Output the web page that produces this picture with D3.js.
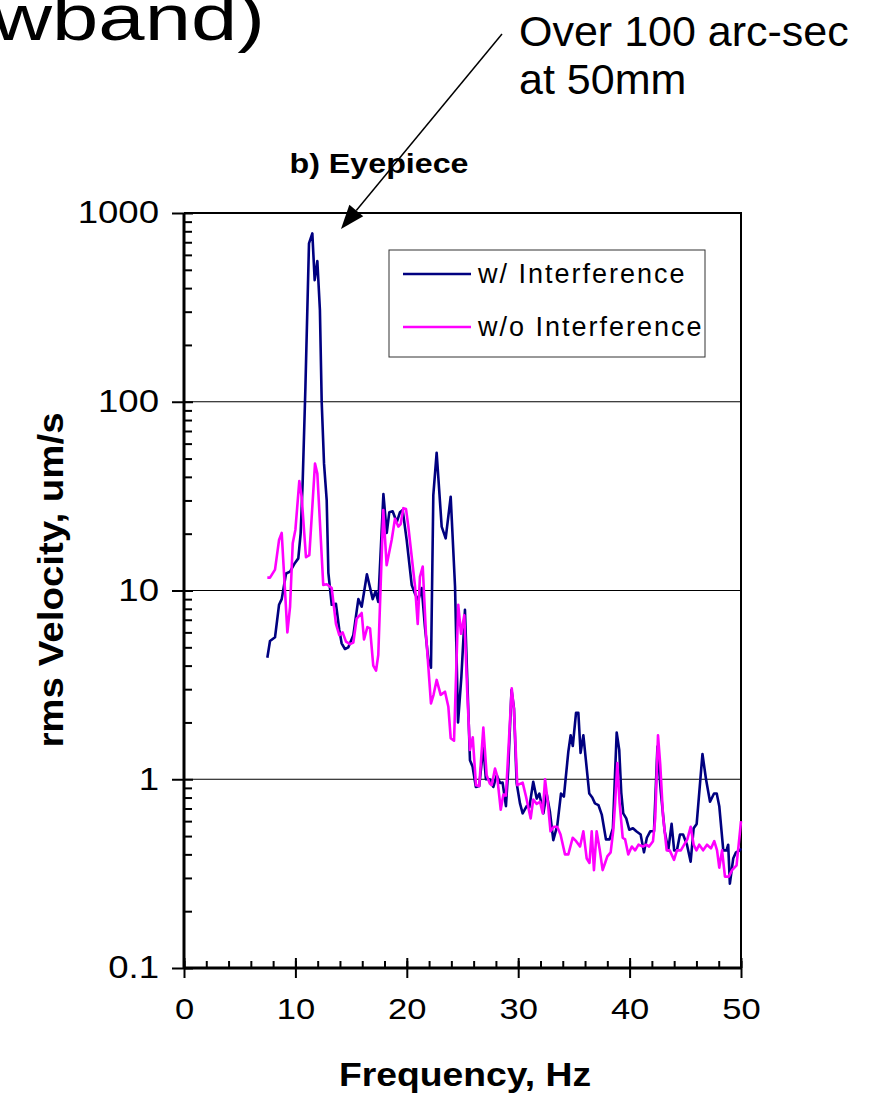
<!DOCTYPE html>
<html>
<head>
<meta charset="utf-8">
<script src="https://cdn.jsdelivr.net/npm/d3@7"></script>
<style>
  body { margin: 0; background: #fff; }
  svg { display: block; font-family: Arial, 'Liberation Sans', sans-serif; }
</style>
</head>
<body>
<div class="canvas"></div>
<script>
// data
const withFreq = [7.48, 7.72, 8.17, 8.53, 8.77, 9.16, 9.52, 9.96, 10.26, 10.47, 10.65, 10.9, 11.22, 11.52, 11.73, 11.97,
  12.2, 12.36, 12.57, 12.81, 12.96, 13.26, 13.64, 13.94, 14.15, 14.45, 14.75, 15.2, 15.65, 15.95, 16.42, 16.94, 17.2,
  17.44, 17.9, 18.2, 18.43, 18.73, 19.1, 19.39, 19.63, 19.99, 20.44, 20.74, 21.03, 21.34, 21.63, 21.93, 22.17, 22.38,
  22.68, 23.13, 23.49, 23.94, 24.33, 24.6, 24.9, 25.22, 25.67, 25.9, 26.2, 26.5, 26.87, 27.1, 27.45, 27.77, 28.07,
  28.37, 28.6, 28.9, 29.1, 29.4, 29.62, 29.86, 30.16, 30.4, 30.76, 31.0, 31.35, 31.66, 31.9, 32.26, 32.55, 32.85,
  33.15, 33.51, 33.84, 34.1, 34.5, 34.71, 34.9, 35.19, 35.4, 35.6, 35.85, 36.1, 36.38, 36.65, 36.89, 37.2, 37.5,
  37.88, 38.2, 38.5, 38.84, 39.07, 39.25, 39.43, 39.7, 39.97, 40.3, 40.6, 40.99, 41.29, 41.55, 41.85, 42.19, 42.5,
  42.8, 43.15, 43.47, 43.77, 44.0, 44.25, 44.52, 44.8, 45.15, 45.48, 45.75, 46.02, 46.54, 46.86, 47.22, 47.58, 47.82,
  48.05, 48.41, 48.7, 48.85, 49.0, 49.3, 49.55, 49.9, 50.0];
const withVel = [4.4, 5.4, 5.65, 8.4, 9.0, 12.3, 12.6, 14, 14.8, 20, 37, 120, 690, 780, 441, 557,
  306, 100, 47, 30, 12.4, 8.4, 8.5, 6.2, 5.25, 4.9, 5.0, 5.8, 9.0, 8.2, 12.2, 9.0, 9.9,
  8.7, 32.4, 20.2, 26, 26.3, 23, 26, 26.7, 18.5, 10.7, 9.6, 8.9, 10.3, 6.4, 4.3, 3.9, 32,
  53.7, 21.8, 18.9, 31.4, 10.5, 2.0, 3.5, 7.9, 1.26, 1.17, 0.91, 0.92, 1.49, 1.0, 1.0, 0.91, 1.05,
  0.955, 0.96, 0.72, 1.12, 2.97, 2.38, 0.955, 0.745, 0.66, 0.72, 0.71, 0.97, 0.79, 0.84, 0.66, 0.84, 0.67,
  0.476, 0.57, 0.84, 0.81, 1.4, 1.71, 1.5, 2.25, 2.25, 1.38, 1.71, 1.22, 0.84, 0.8, 0.745, 0.73, 0.65,
  0.48, 0.48, 0.55, 1.77, 1.43, 0.85, 0.66, 0.62, 0.54, 0.55, 0.53, 0.51, 0.41, 0.49, 0.53, 0.53, 1.49,
  0.86, 0.53, 0.42, 0.58, 0.42, 0.42, 0.51, 0.51, 0.45, 0.366, 0.55, 0.58, 1.36, 1.0, 0.76, 0.84, 0.84,
  0.72, 0.42, 0.42, 0.45, 0.28, 0.38, 0.41, 0.42, 0.43];

const withoutFreq = [7.48, 7.72, 8.17, 8.53, 8.77, 9.28, 9.52, 9.76, 10.0, 10.35, 10.56, 10.95, 11.25, 11.76, 11.97,
  12.5, 12.81, 13.26, 13.64, 13.94, 14.24, 14.54, 14.9, 15.2, 15.5, 15.95, 16.16, 16.46, 16.7, 16.99, 17.24, 17.44,
  17.65, 17.89, 18.19, 18.64, 18.94, 19.24, 19.45, 19.69, 19.93, 20.14, 20.44, 20.74, 20.98, 21.18, 21.43, 21.72,
  22.17, 22.4, 22.68, 23.04, 23.43, 23.73, 23.94, 24.24, 24.62, 24.87, 25.16, 25.43, 25.67, 25.92, 26.21, 26.5,
  26.87, 27.17, 27.45, 27.62, 27.92, 28.1, 28.43, 28.67, 28.9, 29.42, 29.62, 29.92, 30.4, 30.7, 31.12, 31.35, 31.66,
  31.96, 32.2, 32.41, 32.65, 32.9, 33.2, 33.5, 33.8, 34.2, 34.5, 34.89, 35.2, 35.55, 35.85, 36.15, 36.4, 36.6, 36.8,
  37.04, 37.3, 37.58, 37.8, 38.0, 38.3, 38.54, 38.7, 38.9, 39.1, 39.38, 39.6, 39.88, 40.2, 40.5, 40.8, 41.2, 41.5,
  41.75, 42.1, 42.3, 42.55, 42.75, 43.0, 43.33, 43.6, 43.99, 44.25, 44.6, 44.9, 45.18, 45.48, 45.75, 46.0, 46.25,
  46.6, 46.95, 47.3, 47.6, 47.85, 48.05, 48.3, 48.56, 48.9, 49.2, 49.6, 49.91, 50.0];
const withoutVel = [11.7, 11.7, 12.9, 18.5, 20.2, 6.0, 8.2, 17.8, 21, 38, 31.4, 15, 15.4, 47, 41.6,
  10.7, 10.8, 10.3, 6.65, 5.8, 6.0, 5.36, 5.2, 5.3, 7.1, 7.6, 5.5, 6.4, 6.3, 4.0, 3.76, 4.55,
  10.5, 26.7, 13.6, 18.5, 24, 21.8, 22.5, 27.3, 27, 21.8, 15.1, 10.5, 6.65, 11.8, 13.4, 5.9,
  2.52, 2.8, 3.36, 2.8, 2.91, 2.42, 1.65, 1.6, 8.4, 5.9, 7.4, 2.85, 1.43, 1.67, 0.93, 0.92,
  1.88, 1.05, 0.95, 0.93, 1.14, 1.05, 0.69, 0.83, 0.82, 3.03, 2.33, 0.93, 0.96, 0.81, 0.62, 0.78, 0.74,
  0.76, 0.66, 1.0, 0.76, 0.53, 0.56, 0.56, 0.51, 0.40, 0.40, 0.49, 0.47, 0.44, 0.53, 0.38, 0.36, 0.53, 0.33,
  0.53, 0.43, 0.33, 0.36, 0.39, 0.41, 0.54, 0.75, 1.22, 0.75, 0.49, 0.48, 0.40, 0.44, 0.42, 0.45, 0.44, 0.45,
  0.44, 0.47, 0.62, 1.71, 1.2, 0.64, 0.42, 0.42, 0.374, 0.42, 0.42, 0.45, 0.48, 0.56, 0.45, 0.42, 0.45,
  0.42, 0.45, 0.43, 0.47, 0.42, 0.34, 0.42, 0.305, 0.305, 0.33, 0.35, 0.53, 0.6];

const xTicks = [0, 10, 20, 30, 40, 50];
const xMinorTicks = d3.range(0, 51, 2);
const yTicks = [0.1, 1, 10, 100, 1000];
const yTickLabels = ['0.1', '1', '10', '100', '1000'];
const gridValues = [1, 10, 100];
const seriesNames = ['w/ Interference', 'w/o Interference'];
const seriesColors = ['#000080', '#ff00ff'];

const width = 871;
const height = 1094;
const plot = { left: 184, right: 741, top: 213, bottom: 968 };

// the original chart was pasted in wider than it was drawn, so its texts look stretched
const stretch = (sel, k) =>
  sel.each(function() {
    const w = this.getComputedTextLength();
    d3.select(this)
      .attr('textLength', w * k)
      .attr('lengthAdjust', 'spacingAndGlyphs');
  });

const svg = d3
  .select('.canvas')
  .append('svg')
  .attr('width', width)
  .attr('height', height);

// scales
const x = d3.scaleLinear().domain([0, 50]).range([plot.left, plot.right]);
const y = d3.scaleLog().domain([0.1, 1000]).range([plot.bottom, plot.top]);

// horizontal grid lines
svg
  .append('g')
  .selectAll('line')
  .data(gridValues)
  .enter()
  .append('line')
  .attr('x1', plot.left)
  .attr('x2', plot.right)
  .attr('y1', d => y(d))
  .attr('y2', d => y(d))
  .attr('stroke', '#000')
  .attr('stroke-width', 1);

// frame top and right
svg
  .append('path')
  .attr('d', `M${plot.left},${plot.top}H${plot.right}V${plot.bottom}`)
  .attr('fill', 'none')
  .attr('stroke', '#000')
  .attr('stroke-width', 2);

// minor ticks
const yMinor = [];
[0.1, 1, 10, 100].forEach(d => {
  for (let k = 2; k <= 9; k++) yMinor.push(d * k);
});

svg
  .append('g')
  .attr('transform', `translate(${plot.left},0)`)
  .call(d3.axisLeft(y).tickValues(yMinor).tickSize(-8).tickFormat(''))
  .call(g => g.select('.domain').remove())
  .selectAll('line')
  .attr('stroke-width', 2);

svg
  .append('g')
  .attr('transform', `translate(0,${plot.bottom})`)
  .call(d3.axisBottom(x).tickValues(xMinorTicks).tickSize(-7).tickFormat(''))
  .call(g => g.select('.domain').remove())
  .selectAll('line')
  .attr('stroke-width', 2);

// main axes
const yAxisGroup = svg
  .append('g')
  .attr('transform', `translate(${plot.left},0)`)
  .call(
    d3
      .axisLeft(y)
      .tickValues(yTicks)
      .tickSize(12)
      .tickPadding(13)
      .tickFormat((d, i) => yTickLabels[i])
  );
yAxisGroup.select('.domain').attr('stroke-width', 3).attr('d', `M0,${plot.top}V${plot.bottom}`);
yAxisGroup.selectAll('line').attr('x1', 9).attr('stroke-width', 2);
yAxisGroup
  .selectAll('text')
  .attr('font-size', 31)
  .attr('font-family', 'Arial, Liberation Sans, sans-serif')
  .attr('fill', '#000')
  .call(stretch, 1.18);

const xAxisGroup = svg
  .append('g')
  .attr('transform', `translate(0,${plot.bottom})`)
  .call(d3.axisBottom(x).tickValues(xTicks).tickSize(10).tickPadding(20));
xAxisGroup.select('.domain').attr('stroke-width', 3).attr('d', `M${plot.left},0H${plot.right}`);
xAxisGroup.selectAll('line').attr('y1', -10).attr('stroke-width', 2);
xAxisGroup
  .selectAll('text')
  .attr('font-size', 30)
  .attr('font-family', 'Arial, Liberation Sans, sans-serif')
  .attr('fill', '#000')
  .call(stretch, 1.15);

// series lines
const line = d3
  .line()
  .x(d => x(d[0]))
  .y(d => y(d[1]));

const series = [
  d3.zip(withFreq, withVel),
  d3.zip(withoutFreq, withoutVel)
];

series.forEach((data, i) => {
  svg
    .append('path')
    .datum(data)
    .attr('fill', 'none')
    .attr('stroke', seriesColors[i])
    .attr('stroke-width', 2.6)
    .attr('stroke-linejoin', 'round')
    .attr('d', line);
});

// legend
const legend = svg.append('g').attr('transform', 'translate(389,250)');
legend
  .append('rect')
  .attr('width', 316)
  .attr('height', 107)
  .attr('fill', '#fff')
  .attr('stroke', '#333')
  .attr('stroke-width', 1);

seriesNames.forEach((name, i) => {
  const row = legend.append('g').attr('transform', `translate(0,${24 + i * 53})`);
  row
    .append('line')
    .attr('x1', 14)
    .attr('x2', 82)
    .attr('stroke', seriesColors[i])
    .attr('stroke-width', 2.6);
  row
    .append('text')
    .attr('x', 89)
    .attr('y', 9)
    .attr('font-size', 27)
    .attr('letter-spacing', 2)
    .text(name);
});

// titles
svg
  .append('text')
  .attr('x', 379)
  .attr('y', 173)
  .attr('text-anchor', 'middle')
  .attr('font-weight', 'bold')
  .attr('font-size', 28)
  .text('b) Eyepiece')
  .call(stretch, 1.15);

svg
  .append('text')
  .attr('x', 465)
  .attr('y', 1086)
  .attr('text-anchor', 'middle')
  .attr('font-weight', 'bold')
  .attr('font-size', 33)
  .text('Frequency, Hz')
  .call(stretch, 1.13);

svg
  .append('text')
  .attr('transform', 'translate(63,580) rotate(-90)')
  .attr('text-anchor', 'middle')
  .attr('font-weight', 'bold')
  .attr('font-size', 35)
  .text('rms Velocity, um/s')
  .call(stretch, 1.1);

// slide text around the chart
svg
  .append('text')
  .attr('x', -8)
  .attr('y', 40)
  .attr('font-size', 64)
  .text('wband)')
  .call(stretch, 1.3);

const note = svg.append('text').attr('font-size', 43);
note.append('tspan').attr('x', 519).attr('y', 46).text('Over 100 arc-sec');
note.append('tspan').attr('x', 519).attr('y', 94).text('at 50mm');

// annotation arrow
const arrowStart = [502, 34];
const arrowEnd = [341, 229];
const ang = Math.atan2(arrowEnd[1] - arrowStart[1], arrowEnd[0] - arrowStart[0]);
const headLen = 24;
const headHalf = 9;
const base = [arrowEnd[0] - headLen * Math.cos(ang), arrowEnd[1] - headLen * Math.sin(ang)];

svg
  .append('line')
  .attr('x1', arrowStart[0])
  .attr('y1', arrowStart[1])
  .attr('x2', base[0])
  .attr('y2', base[1])
  .attr('stroke', '#000')
  .attr('stroke-width', 1.5);

svg
  .append('path')
  .attr(
    'd',
    `M${arrowEnd[0]},${arrowEnd[1]}` +
      `L${base[0] + headHalf * Math.sin(ang)},${base[1] - headHalf * Math.cos(ang)}` +
      `L${base[0] - headHalf * Math.sin(ang)},${base[1] + headHalf * Math.cos(ang)}Z`
  )
  .attr('fill', '#000');
</script>
</body>
</html>
